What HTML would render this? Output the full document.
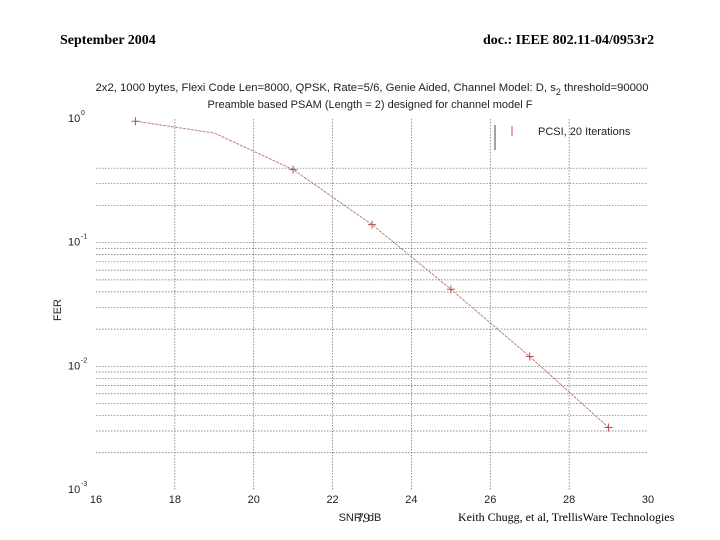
<!DOCTYPE html>
<html><head><meta charset="utf-8"><style>
body{margin:0;background:#fff;width:720px;height:540px;overflow:hidden;position:relative}
.s{font-family:"Liberation Serif",serif;position:absolute;color:#000}
svg text{font-family:"Liberation Sans",sans-serif}
</style></head><body>
<div class="s" style="left:60px;top:33px;font-size:14px;font-weight:bold">September 2004</div>
<div class="s" style="left:483px;top:33px;font-size:14px;font-weight:bold">doc.: IEEE 802.11-04/0953r2</div>
<div class="s" style="left:357px;top:510px;font-size:13px">79</div>
<div class="s" style="left:458px;top:510px;font-size:12px">Keith Chugg, et al, TrellisWare Technologies</div>
<svg id="c" width="720" height="540" style="position:absolute;left:0;top:0"></svg>
<script>
const snr=[17,19,21,23,25,27,29];
const fer=[0.96,0.77,0.39,0.14,0.042,0.012,0.0032];
const markerSnr=[17,21,23,25,27,29];
const markerFer=[0.96,0.39,0.14,0.042,0.012,0.0032];
const xTicks=[16,18,20,22,24,26,28,30];
const yDecades=[0,-1,-2,-3];
const L=96,R=648,T=119,B=490;
const X=v=>L+(v-16)/(30-16)*(R-L);
const Y=v=>T+(0-Math.log10(v))/3*(B-T);
const svg=document.getElementById('c');const NS='http://www.w3.org/2000/svg';
function mk(t,a,txt){const e=document.createElementNS(NS,t);for(const k in a)e.setAttribute(k,a[k]);if(txt!==undefined)e.textContent=txt;svg.appendChild(e);return e;}
for(let d=-3;d<0;d++)for(let m=1;m<10;m++){const v=m*Math.pow(10,d);if(m===1&&d===-3)continue;if(d===-1&&m>4)continue;
 const g=mk('line',{x1:L,x2:R,y1:Y(v),y2:Y(v),stroke:'#666','stroke-width':0.7,'stroke-dasharray':'1.5,1.5'});
 
 }
xTicks.forEach(t=>{
 if(t>16&&t<30){const g=mk('line',{x1:X(t),x2:X(t),y1:T,y2:B,stroke:'#666','stroke-width':0.7,'stroke-dasharray':'1.5,1.5'});
 
 }
 const l=mk('text',{x:X(t),y:B+13,'font-size':11,'text-anchor':'middle',fill:'#222'},t);
 
 
});
yDecades.forEach(d=>{
 const l=mk('text',{x:L-28,y:Y(Math.pow(10,d))+3,'font-size':11,fill:'#222'},'10');
 
 
 const e=mk('text',{x:L-15,y:Y(Math.pow(10,d))-4,'font-size':7,fill:'#222'},String(d));
 
 
});
const p=mk('polyline',{points:snr.map((s,i)=>X(s)+','+Y(fer[i])).join(' '),fill:'none',stroke:'#c08080','stroke-width':1,'stroke-dasharray':'3,1'});


markerSnr.forEach((s,i)=>{const x=X(s),y=Y(markerFer[i]);
 const m=mk('path',{d:`M${x-4},${y}H${x+4}M${x},${y-4}V${y+4}`,stroke:'#c05050','stroke-width':1});
 
 });
const t1=mk('text',{x:372,y:91,'font-size':11.3,'text-anchor':'middle',fill:'#222'});
t1.innerHTML='2x2, 1000 bytes, Flexi Code Len=8000, QPSK, Rate=5/6, Genie Aided, Channel Model: D, s<tspan dy="4" font-size="9">2</tspan><tspan dy="-4"> threshold=90000</tspan>';


const t2=mk('text',{x:370,y:108,'font-size':11,'text-anchor':'middle',fill:'#222'},'Preamble based PSAM (Length = 2) designed for channel model F');


const xl=mk('text',{x:360,y:521,'font-size':11,'text-anchor':'middle',fill:'#222'},'SNR, dB');


const yl=mk('text',{x:0,y:0,'font-size':11,'text-anchor':'middle',fill:'#222',transform:'translate(61,310) rotate(-90)'},'FER');


const lb=mk('line',{x1:495,x2:495,y1:125,y2:150,stroke:'#444','stroke-width':1});


const lm=mk('path',{d:'M512,126V136',stroke:'#c05050','stroke-width':1});


const lt=mk('text',{x:538,y:135,'font-size':11,fill:'#222'},'PCSI, 20 Iterations');


</script>
</body></html>
